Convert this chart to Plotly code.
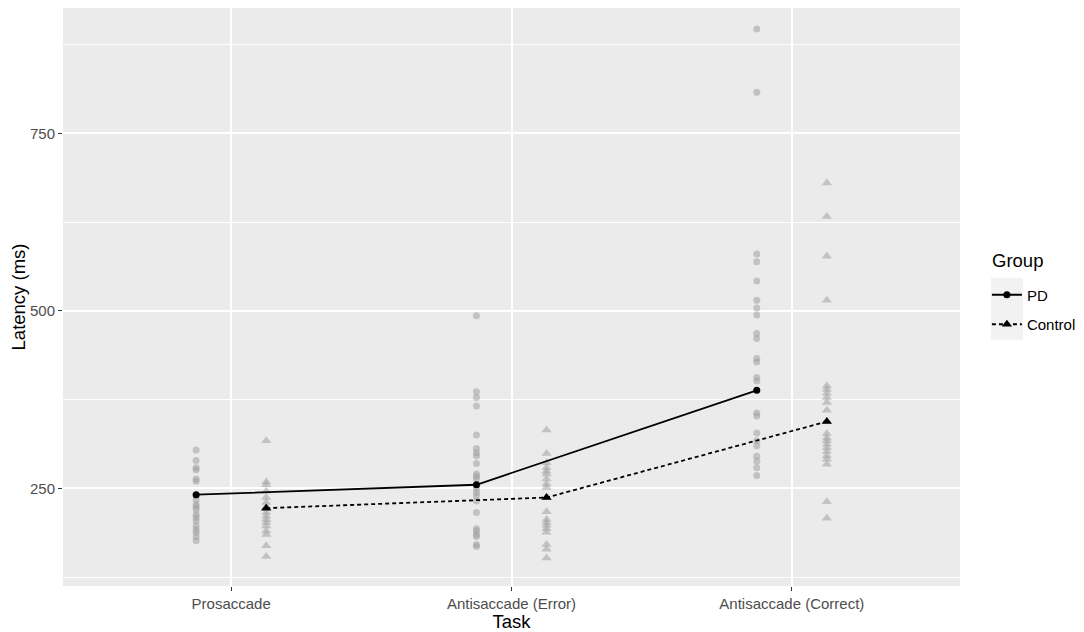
import plotly.graph_objects as go

tasks = ["Prosaccade", "Antisaccade (Error)", "Antisaccade (Correct)"]
groups = ["PD", "Control"]

# individual latencies (ms)
pd_pro = [304, 289, 279, 276, 263, 260, 240, 234, 227, 224, 220, 213, 209, 204, 197, 192, 188, 182, 176]
pd_err = [493, 386, 378, 366, 325, 306, 300, 296, 285, 270, 267, 263, 255, 249, 244, 239, 232,
          216, 193, 190, 185, 182, 171, 168]
pd_cor = [897, 808, 580, 569, 542, 515, 504, 494, 468, 461, 433, 428, 406, 401, 356, 352, 328,
          317, 310, 295, 288, 279, 268]
ctl_pro = [317, 259, 255, 246, 237, 230, 224, 216, 211, 206, 202, 197, 190, 185, 169, 154]
ctl_err = [332, 299, 286, 279, 274, 270, 263, 256, 251, 237, 217, 206, 202, 198, 193, 188, 171, 164, 152]
ctl_cor = [680, 633, 577, 515, 394, 389, 384, 378, 371, 360, 344, 327, 321, 317, 312, 307, 302,
           296, 291, 284, 231, 208]

# group means per task
pd_mean = [241, 255, 388]
ctl_mean = [222, 237, 344]

raw = {"PD": [pd_pro, pd_err, pd_cor], "Control": [ctl_pro, ctl_err, ctl_cor]}
means = {"PD": pd_mean, "Control": ctl_mean}
offset = {"PD": -0.125, "Control": 0.125}
symbol = {"PD": "circle", "Control": "triangle-up"}
msize = {"PD": 7, "Control": 9}
dash = {"PD": "solid", "Control": "4px,3px"}

fig = go.Figure()

for g in groups:
    xs, ys = [], []
    for i, vals in enumerate(raw[g]):
        xs += [i + 1 + offset[g]] * len(vals)
        ys += vals
    fig.add_trace(go.Scatter(
        x=xs, y=ys, mode="markers", showlegend=False, hoverinfo="skip",
        marker=dict(symbol=symbol[g], size=msize[g],
                    color="rgba(160,160,160,0.55)", line=dict(width=0)),
    ))

for g in groups:
    fig.add_trace(go.Scatter(
        x=[i + 1 + offset[g] for i in range(3)], y=means[g], name=g,
        legendgroup=g, mode="lines+markers",
        line=dict(color="black", width=1.8, dash=dash[g]),
        marker=dict(symbol=symbol[g], size=msize[g], color="black"),
    ))

# grey box behind legend keys, as in ggplot
fig.add_shape(type="rect", xref="paper", yref="paper",
              x0=1.0346, x1=1.0702, y0=0.426, y1=0.533,
              fillcolor="#f2f2f2", line=dict(width=0), layer="below")

fig.add_annotation(text="Group", xref="paper", yref="paper", x=1.0335, y=0.5623,
                   xanchor="left", yanchor="middle", showarrow=False,
                   font=dict(size=18.5, color="black"))

fig.update_layout(
    width=1076, height=624,
    margin=dict(l=55, r=124, t=0, b=46),
    paper_bgcolor="white", plot_bgcolor="#ebebeb",
    font=dict(family="Liberation Sans, Arial, sans-serif", color="black"),
    legend=dict(font=dict(size=15),
                x=1.030, y=0.532, xanchor="left", yanchor="top",
                bgcolor="rgba(0,0,0,0)", itemwidth=30, tracegroupgap=7,
                traceorder="grouped"),
    xaxis=dict(
        range=[0.4, 3.6], tickvals=[1, 2, 3], ticktext=tasks,
        showgrid=True, gridcolor="white", gridwidth=1.5, zeroline=False,
        ticks="outside", ticklen=4, tickcolor="#333333",
        tickfont=dict(size=15, color="#4d4d4d"),
        title=dict(text="Task", font=dict(size=18.5), standoff=2),
    ),
    yaxis=dict(
        range=[112.4, 926.5], tick0=250, dtick=250,
        showgrid=True, gridcolor="white", gridwidth=1.5, zeroline=False,
        minor=dict(tick0=125, dtick=125, showgrid=True, gridcolor="white", gridwidth=0.7),
        ticks="outside", ticklen=4, tickcolor="#333333",
        tickfont=dict(size=15, color="#4d4d4d"),
        title=dict(text="Latency (ms)", font=dict(size=18.5), standoff=6),
    ),
)

fig.write_html("out.html")
